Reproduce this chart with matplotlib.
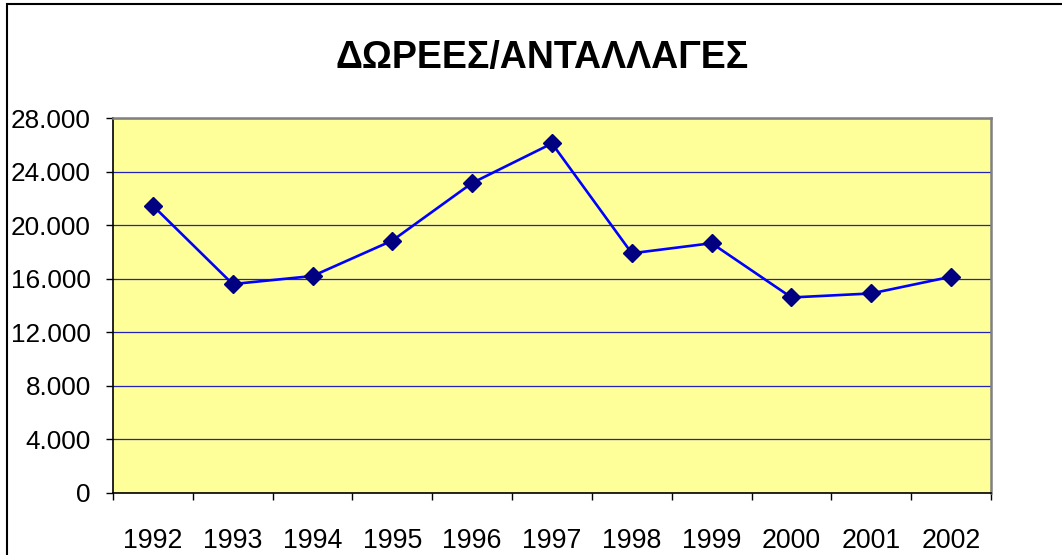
import matplotlib
matplotlib.use("Agg")
import matplotlib.pyplot as plt
from matplotlib.patches import Rectangle
from matplotlib.ticker import FuncFormatter, FixedLocator

years = ["1992", "1993", "1994", "1995", "1996", "1997",
         "1998", "1999", "2000", "2001", "2002"]
values = [21450, 15600, 16200, 18850, 23150, 26100,
          17900, 18650, 14600, 14900, 16150]
y_ticks = [0, 4000, 8000, 12000, 16000, 20000, 24000, 28000]
title = "ΔΩΡΕΕΣ/ΑΝΤΑΛΛΑΓΕΣ"

plt.rcParams["font.family"] = ["Liberation Sans", "DejaVu Sans"]

fig = plt.figure(figsize=(10.62, 5.55), dpi=100)
W, H = 1062, 555
# plot area in pixels: left 113, right 991, top 118, bottom 493
ax = fig.add_axes([113 / W, 1 - 493 / H, (991 - 113) / W, (493 - 118) / H])
ax.set_facecolor("#FFFF99")

x = list(range(len(years)))
ax.plot(x, values, color="#0000FF", linewidth=1.9, zorder=3,
        marker="D", markersize=9.5, markerfacecolor="#000080",
        markeredgecolor="#000080")

ax.set_xlim(-0.5, len(years) - 0.5)
ax.set_ylim(0, 28000)
ax.set_yticks(y_ticks)
ax.yaxis.set_major_formatter(FuncFormatter(lambda v, p: f"{int(v):,}".replace(",", ".")))
ax.grid(axis="y", color="#2222BB", linewidth=0.9)
ax.set_axisbelow(True)

# category axis: ticks between categories, labels centred
ax.xaxis.set_major_locator(FixedLocator([i - 0.5 for i in range(len(years) + 1)]))
ax.xaxis.set_minor_locator(FixedLocator(x))
ax.set_xticklabels([])
ax.set_xticklabels(years, minor=True)
ax.tick_params(axis="x", which="major", direction="out", length=5, width=1, color="black")
ax.tick_params(axis="x", which="minor", length=0, pad=25, labelsize=19.3)
ax.tick_params(axis="y", direction="out", length=5, width=1, pad=11, labelsize=18.8)

for s in ("left", "bottom"):
    ax.spines[s].set_color("black")
    ax.spines[s].set_linewidth(1.2)
for s in ("top", "right"):
    ax.spines[s].set_color("#808080")
    ax.spines[s].set_linewidth(1.8)

fig.text(542 / W, 1 - 58 / H, title, ha="center", va="center",
         fontsize=27, fontweight="bold")

# chart area border (runs off the right and bottom edges)
fig.patches.append(Rectangle((7 / W, -0.05), 1.1, 1 - 4 / H + 0.05,
                             transform=fig.transFigure, fill=False,
                             edgecolor="black", linewidth=1.5))

fig.savefig("out.png", dpi=100)
